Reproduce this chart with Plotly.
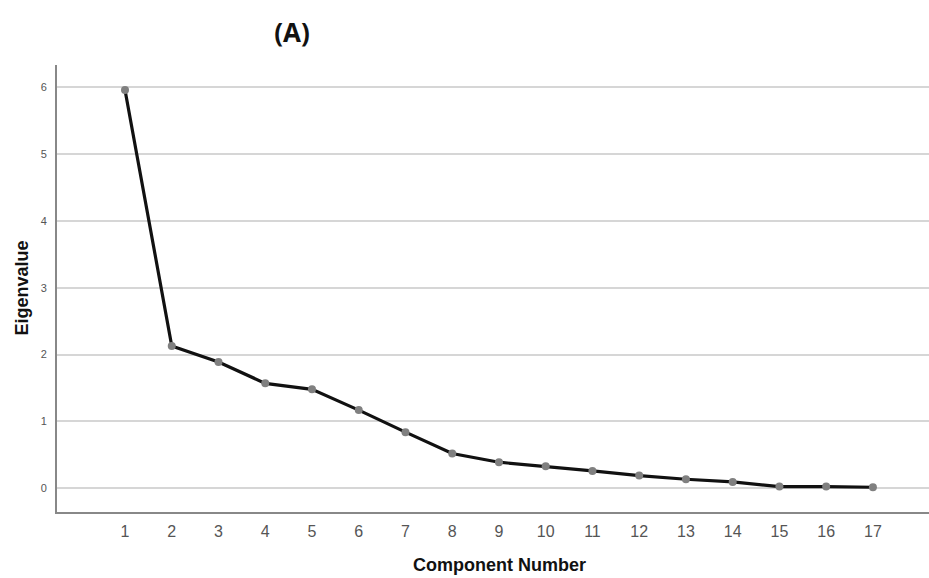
import plotly.graph_objects as go

components = list(range(1, 18))
eigenvalues = [5.96, 2.13, 1.89, 1.57, 1.48, 1.17, 0.84, 0.52, 0.39, 0.33,
               0.26, 0.19, 0.135, 0.095, 0.025, 0.025, 0.015]
y_ticks = [0, 1, 2, 3, 4, 5, 6]

fig = go.Figure()
fig.add_trace(go.Scatter(
    x=components, y=eigenvalues, mode="lines+markers",
    line=dict(color="#111111", width=3.2),
    marker=dict(color="#808080", size=8),
    showlegend=False,
))

W, H = 929, 578
L, R, T, B = 57, 0, 65, 66
PW, PH = W - L - R, H - T - B

fig.update_layout(
    width=W, height=H,
    margin=dict(l=L, r=R, t=T, b=B),
    paper_bgcolor="white", plot_bgcolor="white",
    font=dict(family="Liberation Sans, Arial, sans-serif", color="#555555"),
    title=dict(text="<b>(A)</b>", xref="container", yref="container",
               x=292 / W, y=1 - 33 / H,
               xanchor="center", yanchor="middle",
               font=dict(family="Open Sans, sans-serif", size=26, color="#111111")),
    xaxis=dict(
        range=[-0.455, 18.2], tickmode="array", tickvals=components,
        ticktext=[str(c) for c in components],
        showgrid=False, zeroline=False,
        showline=True, linecolor="#888888", linewidth=2,
        ticks="", tickfont=dict(size=16, color="#555555"),
        ticklabelstandoff=4,
    ),
    yaxis=dict(
        range=[-0.355, 6.334], tickmode="array", tickvals=y_ticks,
        showgrid=True, gridcolor="#d6d6d6", gridwidth=2,
        zeroline=False,
        showline=True, linecolor="#888888", linewidth=2,
        ticks="", tickfont=dict(size=11, color="#555555"),
        ticklabelstandoff=6,
    ),
    annotations=[
        dict(text="<b>Component Number</b>", xref="paper", yref="paper",
             x=(499 - 57) / PW, y=-(565 - 512) / PH, xanchor="center", yanchor="middle",
             showarrow=False, font=dict(size=18, color="#111111")),
        dict(text="<b>Eigenvalue</b>", xref="paper", yref="paper",
             x=-(57 - 21) / PW, y=0.5, xanchor="center", yanchor="middle",
             textangle=-90, showarrow=False, font=dict(size=18, color="#111111")),
    ],
)

fig.write_html(
    "out.html",
    config={"displayModeBar": False},
    post_script="document.body.style.margin='0';"
                "document.documentElement.style.overflow='hidden';"
                "document.body.style.overflow='hidden';",
)
